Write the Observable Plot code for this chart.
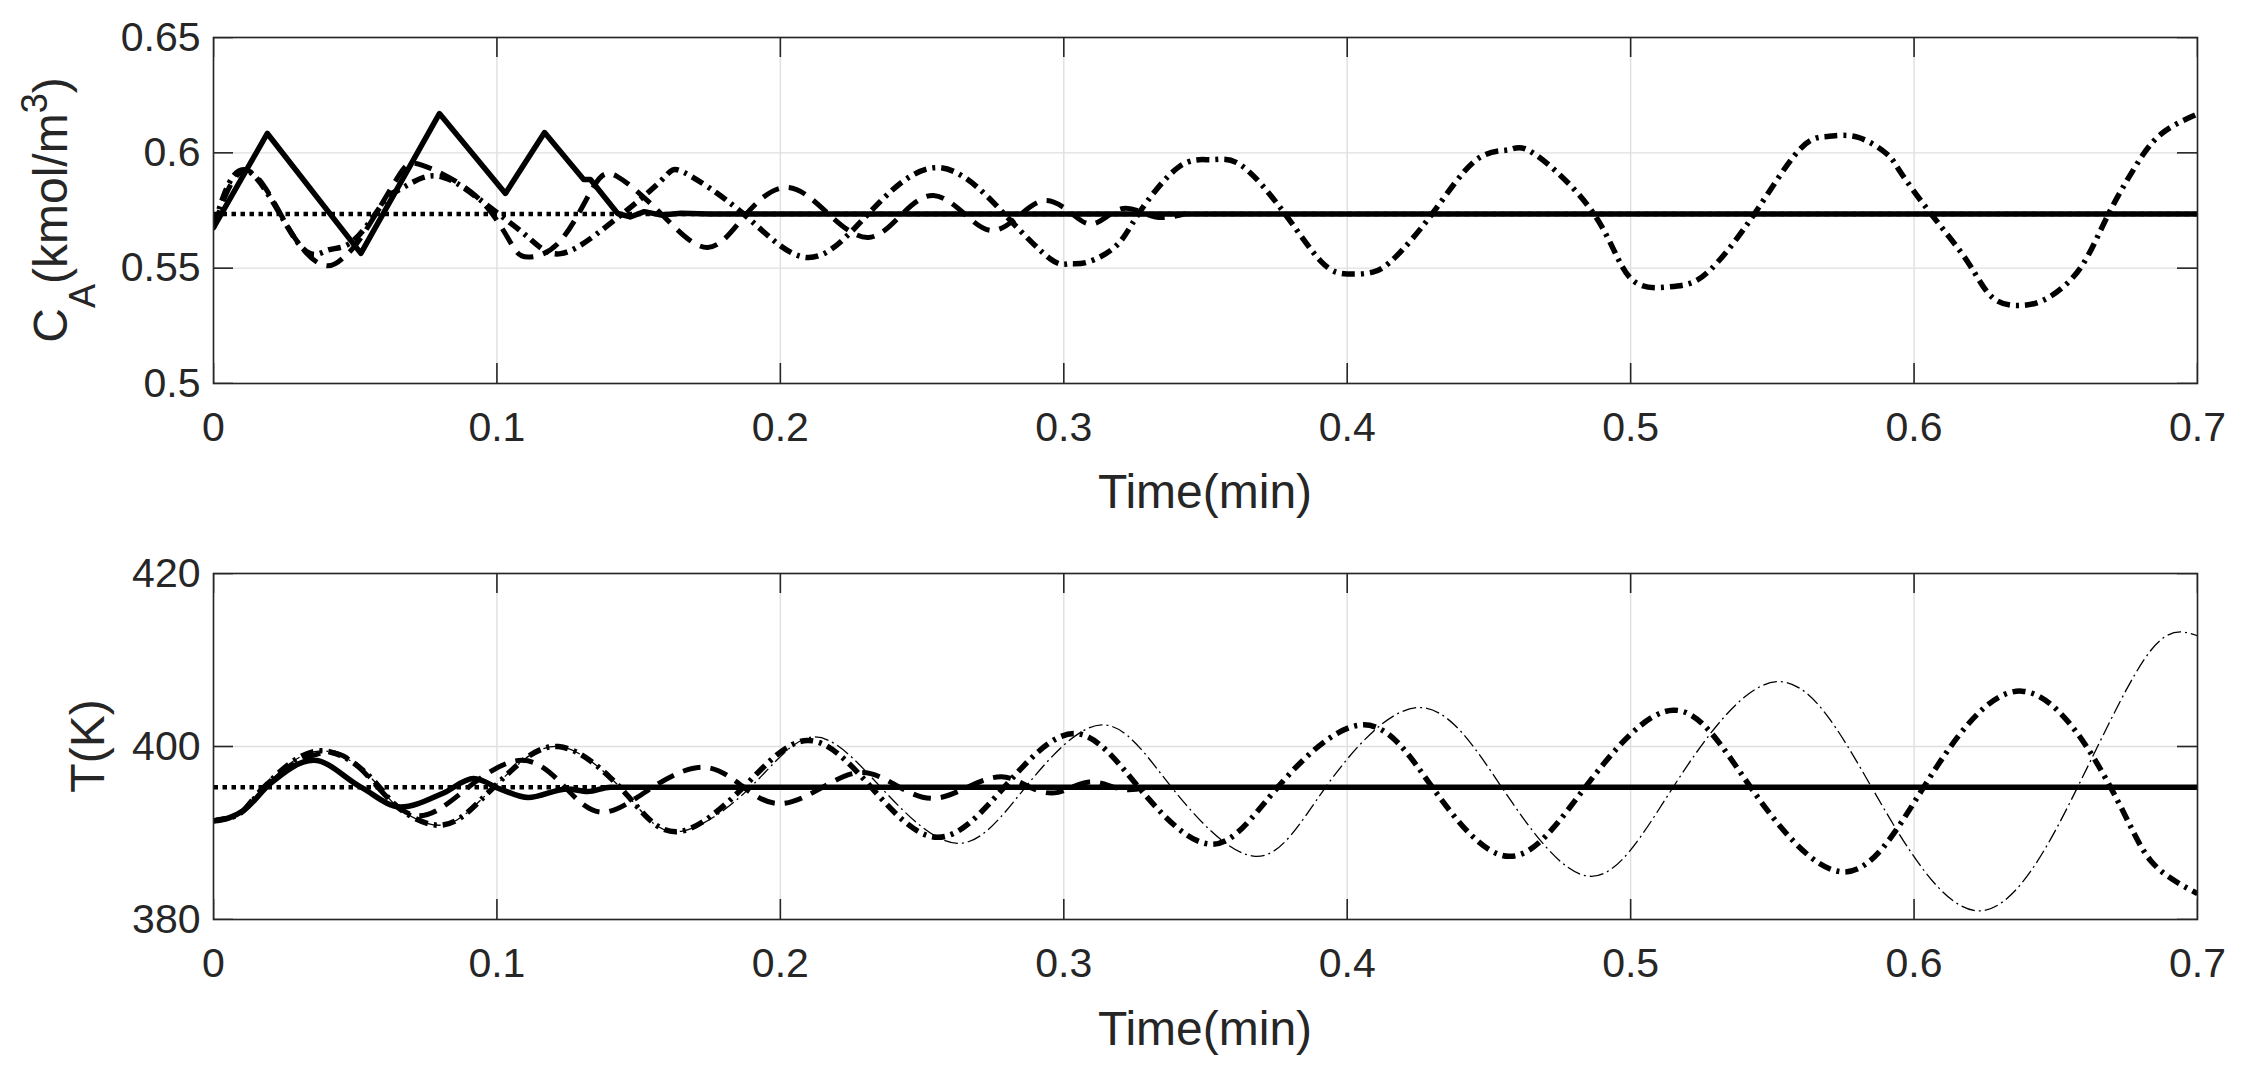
<!DOCTYPE html>
<html><head><meta charset="utf-8">
<script src="https://cdn.jsdelivr.net/npm/d3@7"></script>
<script src="https://cdn.jsdelivr.net/npm/@observablehq/plot@0.6"></script>
<style>
html,body{margin:0;padding:0;background:#fff;}
#wrap{position:relative;width:2244px;height:1074px;overflow:hidden;background:#fff;}
#wrap svg{position:absolute;left:0;}
</style></head><body><div id="wrap"></div>
<script>
// ---------- tick values ----------
const xTicks = [0, 0.1, 0.2, 0.3, 0.4, 0.5, 0.6, 0.7];
const caTicks = [0.5, 0.55, 0.6, 0.65];
const tTicks = [380, 400, 420];

// ---------- top panel: C_A (kmol/m^3) ----------
const caSetT = [0, 0.7];
const caSetV = [0.5735, 0.5735];

const caSolidT = [0, 0.019, 0.052, 0.0797, 0.103, 0.1168, 0.1306, 0.133, 0.1426, 0.147, 0.152, 0.158, 0.165, 0.175, 0.7];
const caSolidV = [0.5676, 0.6084, 0.5564, 0.617, 0.5824, 0.6088, 0.5884, 0.5884, 0.5737, 0.5722, 0.5745, 0.5730, 0.5738, 0.5735, 0.5735];

const caDashT = [0, 0.012, 0.027, 0.039, 0.046, 0.053, 0.065, 0.074, 0.093, 0.105, 0.111, 0.1225, 0.134, 0.1425, 0.158, 0.1743, 0.188, 0.2025, 0.217, 0.231, 0.243, 0.254, 0.265, 0.275, 0.285, 0.294, 0.303, 0.311, 0.321, 0.332, 0.343];
const caDashV = [0.5676, 0.5923, 0.5663, 0.5512, 0.5548, 0.565, 0.5894, 0.5945, 0.5808, 0.5607, 0.5548, 0.562, 0.5851, 0.5897, 0.5735, 0.559, 0.5735, 0.585, 0.5735, 0.5633, 0.5735, 0.5815, 0.5735, 0.5663, 0.5735, 0.5793, 0.5735, 0.5694, 0.5759, 0.5723, 0.5737];

const caDashDotT = [0, 0.012, 0.0296, 0.04, 0.0494, 0.06, 0.065, 0.074, 0.0813, 0.088, 0.099, 0.111, 0.1225, 0.140, 0.158, 0.166, 0.187, 0.2096, 0.231, 0.2555, 0.279, 0.2953, 0.3017, 0.3083, 0.3186, 0.3264, 0.3405, 0.352, 0.3627, 0.378, 0.391, 0.4, 0.409, 0.417, 0.43, 0.4453, 0.457, 0.466, 0.487, 0.4996, 0.5127, 0.522, 0.5307, 0.5437, 0.5593, 0.5695, 0.58, 0.5903, 0.5953, 0.606, 0.619, 0.628, 0.6387, 0.648, 0.6588, 0.668, 0.6775, 0.687, 0.7];
const caDashDotV = [0.5676, 0.5923, 0.5613, 0.5577, 0.562, 0.5786, 0.5837, 0.5893, 0.5893, 0.5851, 0.575, 0.5634, 0.5563, 0.5694, 0.588, 0.5915, 0.5735, 0.5546, 0.5735, 0.5936, 0.5735, 0.554, 0.5519, 0.5526, 0.5598, 0.5736, 0.5938, 0.597, 0.5945, 0.5736, 0.5526, 0.5475, 0.5483, 0.5548, 0.5736, 0.5967, 0.6013, 0.5996, 0.5736, 0.5461, 0.5418, 0.5439, 0.5526, 0.5736, 0.601, 0.6071, 0.6068, 0.5996, 0.5915, 0.5735, 0.5526, 0.5369, 0.5339, 0.5377, 0.5503, 0.572, 0.5929, 0.608, 0.6168];

// ---------- bottom panel: T (K) ----------
const tSetT = [0, 0.7];
const tSetV = [395.3, 395.3];

const tSolidT = [0, 0.005, 0.0106, 0.020, 0.0353, 0.052, 0.066, 0.081, 0.0918, 0.101, 0.111, 0.125, 0.132, 0.14, 0.7];
const tSolidV = [391.4, 391.7, 392.6, 395.7, 398.4, 395.3, 393.0, 394.6, 396.3, 395.1, 394.1, 395.1, 394.8, 395.3, 395.3];

const tDashT = [0, 0.005, 0.0106, 0.020, 0.04, 0.056, 0.072, 0.09, 0.109, 0.124, 0.1376, 0.155, 0.173, 0.187, 0.2, 0.215, 0.229, 0.242, 0.254, 0.266, 0.278, 0.288, 0.298, 0.309, 0.32, 0.33];
const tDashV = [391.4, 391.7, 392.6, 396.0, 399.3, 396.0, 392.0, 395.3, 398.4, 395.3, 392.4, 395.3, 397.6, 395.3, 393.4, 395.3, 397.0, 395.3, 394.0, 395.3, 396.5, 395.3, 394.7, 395.9, 395.1, 395.3];

const tDashDotT = [0, 0.005, 0.0106, 0.020, 0.0378, 0.0555, 0.065, 0.080, 0.093, 0.105, 0.1217, 0.14, 0.1507, 0.165, 0.187, 0.2095, 0.232, 0.2554, 0.279, 0.3035, 0.3264, 0.352, 0.3755, 0.4055, 0.43, 0.457, 0.484, 0.515, 0.5423, 0.5748, 0.6034, 0.638, 0.6693, 0.6835, 0.7];
const tDashDotV = [391.4, 391.7, 392.6, 396.0, 399.5, 396.4, 393.0, 390.9, 393.4, 397.2, 400.0, 396.4, 392.6, 390.2, 395.3, 400.7, 395.3, 389.5, 395.3, 401.5, 395.3, 388.7, 395.3, 402.5, 395.3, 387.3, 395.3, 404.2, 395.3, 385.5, 395.3, 406.4, 395.3, 386.8, 383.0];

const tThinT = [0, 0.005, 0.0106, 0.020, 0.0378, 0.0555, 0.065, 0.080, 0.093, 0.105, 0.1217, 0.14, 0.1507, 0.165, 0.1895, 0.2117, 0.2354, 0.2625, 0.2865, 0.3134, 0.338, 0.3677, 0.3924, 0.425, 0.4545, 0.4856, 0.515, 0.5515, 0.585, 0.6228, 0.6577, 0.6835, 0.7];
const tThinV = [391.4, 391.7, 392.6, 396.0, 399.5, 396.4, 393.0, 390.9, 393.4, 397.2, 400.0, 396.4, 392.6, 390.2, 395.3, 401.1, 395.3, 388.8, 395.3, 402.5, 395.3, 387.3, 395.3, 404.5, 395.3, 385.0, 395.3, 407.5, 395.3, 381.0, 395.3, 411.1, 412.8];

// ---------- helpers ----------
const zip = (ts, vs) => ts.map((t, i) => ({t, v: vs[i]}));
const INK = "#262626";
const GRID = "#dfdfdf";
const FONT = "'Liberation Sans', Arial, Helvetica, sans-serif";
const W = 2244, ML = 213, MR = 47;
const PW = W - ML - MR;

const styles = {
  dotted:  {stroke: "black", strokeWidth: 4.5, strokeDasharray: "4.5,4.5", strokeLinecap: "butt"},
  solid:   {stroke: "black", strokeWidth: 5.5, strokeLinejoin: "round", strokeLinecap: "round"},
  dashed:  {stroke: "black", strokeWidth: 5,   strokeDasharray: "18,10", strokeLinecap: "butt"},
  dashdot: {stroke: "black", strokeWidth: 5.5, strokeDasharray: "13,6,3,6", strokeLinecap: "butt"},
  thin:    {stroke: "black", strokeWidth: 1.3, strokeDasharray: "14,4,2,4", strokeLinecap: "butt"}
};

function panel({height, mt, mb, yDomain, yTicks, series}) {
  const PH = height - mt - mb;
  const marks = [
    Plot.gridX(xTicks, {x: d => d, stroke: GRID, strokeOpacity: 1, strokeWidth: 1.4}),
    Plot.gridY(yTicks, {y: d => d, stroke: GRID, strokeOpacity: 1, strokeWidth: 1.4}),
    ...series.map(s => Plot.line(s.data, {x: "t", y: "v", curve: s.curve || "natural", ...styles[s.style]})),
    Plot.frame({stroke: INK, strokeWidth: 1.6}),
    Plot.tickX(xTicks, {x: d => d, insetBottom: PH - 20, stroke: INK, strokeWidth: 1.6}),
    Plot.tickX(xTicks, {x: d => d, insetTop: PH - 20, stroke: INK, strokeWidth: 1.6}),
    Plot.tickY(yTicks, {y: d => d, insetRight: PW - 20, stroke: INK, strokeWidth: 1.6}),
    Plot.tickY(yTicks, {y: d => d, insetLeft: PW - 20, stroke: INK, strokeWidth: 1.6}),
    Plot.axisX({ticks: xTicks, tickSize: 0, tickPadding: 28, tickFormat: d => String(d), label: null, fontSize: 41}),
    Plot.axisY({ticks: yTicks, tickSize: 0, tickPadding: 13, tickFormat: d => String(d), label: null, fontSize: 41})
  ];
  return Plot.plot({
    width: W, height,
    marginLeft: ML, marginRight: MR, marginTop: mt, marginBottom: mb,
    x: {domain: [0, 0.7]},
    y: {domain: yDomain},
    clip: true,
    style: {fontFamily: FONT, fontSize: "41px", color: INK, background: "white", overflow: "visible"},
    marks
  });
}

const wrap = document.getElementById("wrap");

// top panel
const topSvg = panel({
  height: 540, mt: 37, mb: 157, yDomain: [0.5, 0.65], yTicks: caTicks,
  series: [
    {data: zip(caSetT, caSetV), style: "dotted", curve: "linear"},
    {data: zip(caDashDotT, caDashDotV), style: "dashdot"},
    {data: zip(caDashT, caDashV), style: "dashed"},
    {data: zip(caSolidT, caSolidV), style: "solid", curve: "linear"}
  ]
});
topSvg.style.top = "0px";
wrap.appendChild(topSvg);

// bottom panel
const botSvg = panel({
  height: 534, mt: 33, mb: 155, yDomain: [380, 420], yTicks: tTicks,
  series: [
    {data: zip(tSetT, tSetV), style: "dotted", curve: "linear"},
    {data: zip(tThinT, tThinV), style: "thin"},
    {data: zip(tDashDotT, tDashDotV), style: "dashdot"},
    {data: zip(tDashT, tDashV), style: "dashed"},
    {data: zip(tSolidT, tSolidV), style: "solid", curve: "monotone-x"}
  ]
});
botSvg.style.top = "540px";
wrap.appendChild(botSvg);

// axis titles
const cx = ML + PW / 2;
function xTitle(svgEl, y) {
  d3.select(svgEl).append("text")
    .attr("x", cx).attr("y", y).attr("text-anchor", "middle")
    .attr("font-family", FONT).attr("font-size", 48).attr("fill", INK)
    .text("Time(min)");
}
xTitle(topSvg, 508);
xTitle(botSvg, 505);

const yl1 = d3.select(topSvg).append("text")
  .attr("transform", "translate(67,210) rotate(-90)")
  .attr("text-anchor", "middle").attr("font-family", FONT).attr("font-size", 48).attr("fill", INK);
yl1.append("tspan").text("C");
yl1.append("tspan").attr("font-size", 36).attr("dy", 28).text("A");
yl1.append("tspan").attr("dy", -28).text("(kmol/m");
yl1.append("tspan").attr("font-size", 36).attr("dy", -20).text("3");
yl1.append("tspan").attr("dy", 20).text(")");

d3.select(botSvg).append("text")
  .attr("transform", "translate(104,206) rotate(-90)")
  .attr("text-anchor", "middle").attr("font-family", FONT).attr("font-size", 48).attr("fill", INK)
  .text("T(K)");
</script></body></html>
